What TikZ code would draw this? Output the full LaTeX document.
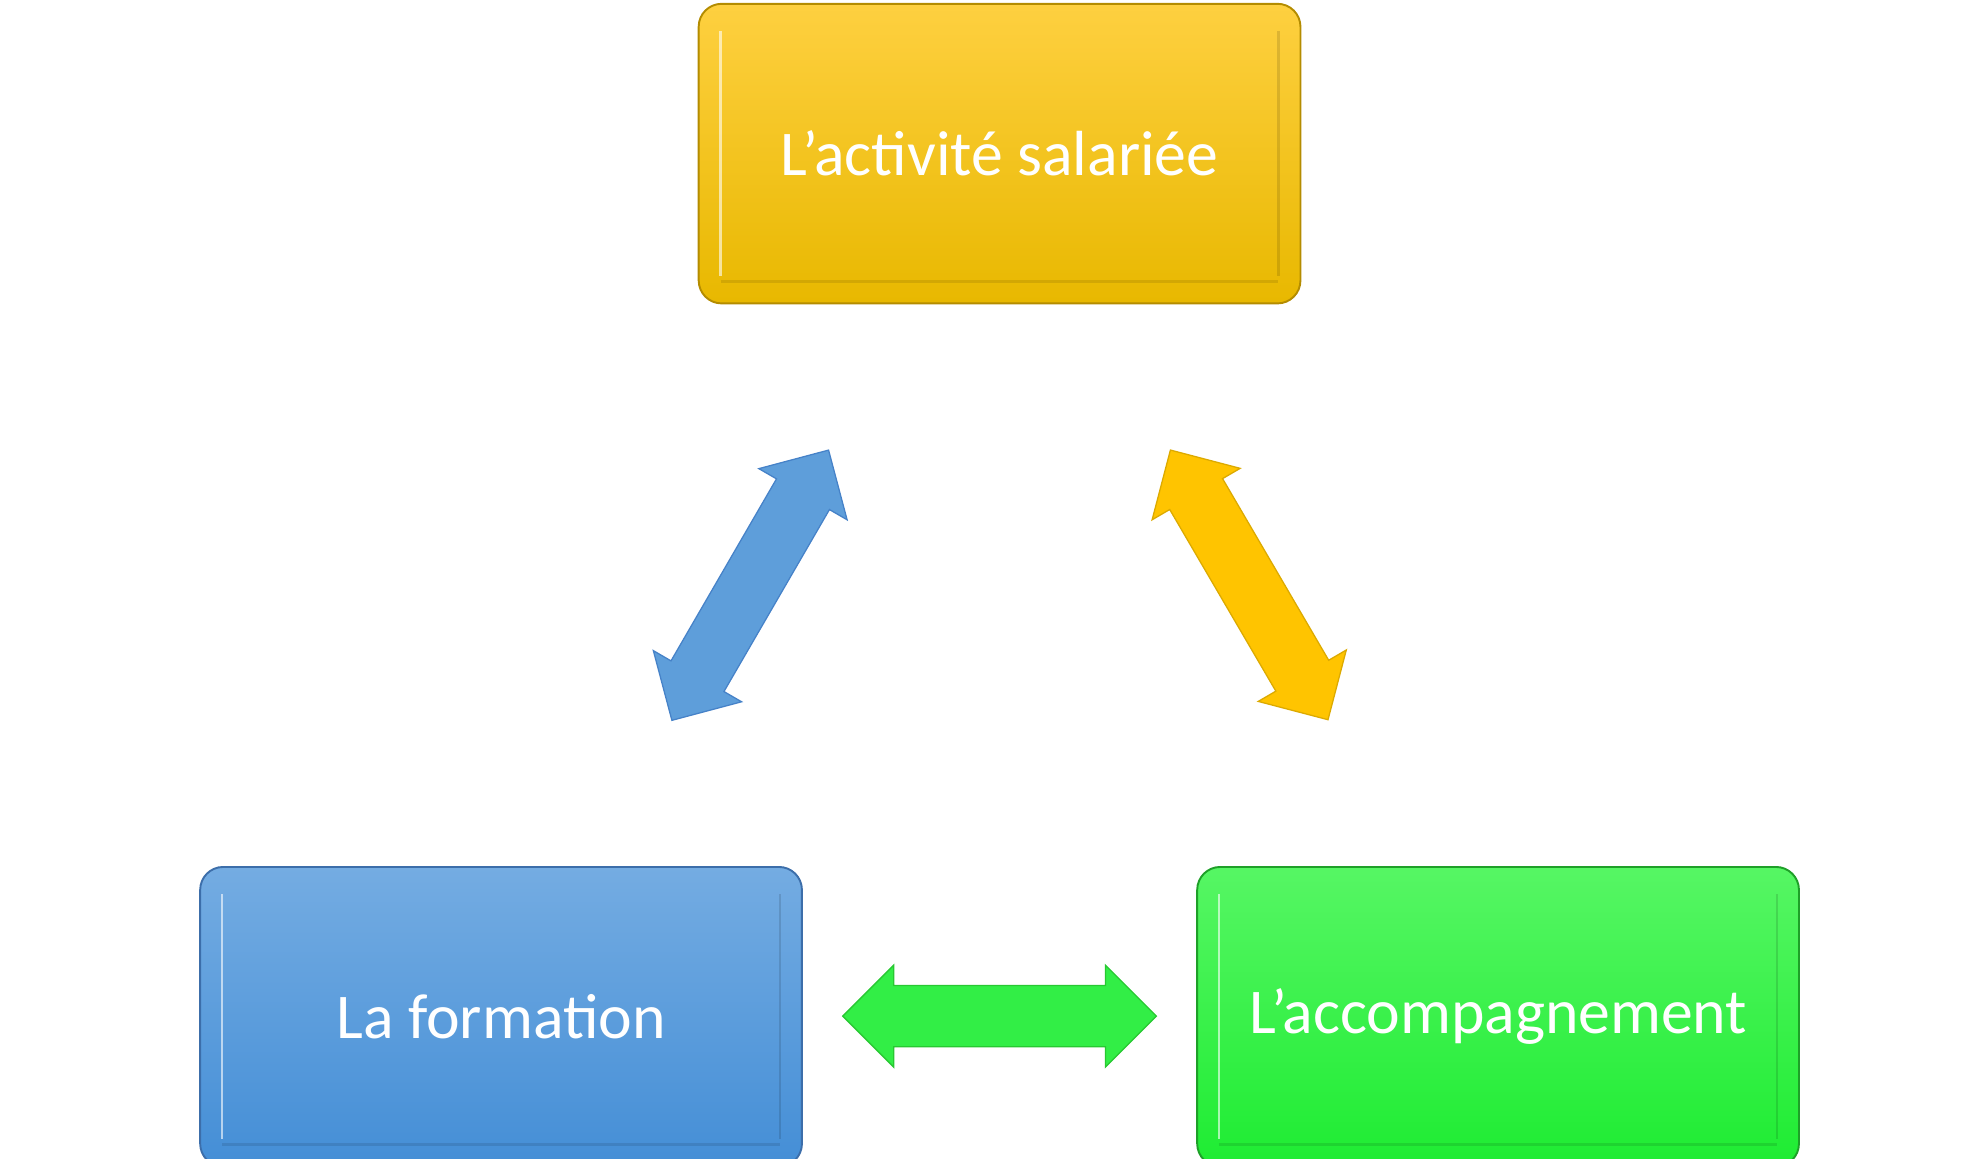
\documentclass[tikz,border=0pt]{standalone}
\usepackage{fontspec}
\setmainfont{Carlito}
\begin{document}
\begin{tikzpicture}[x=1pt,y=1pt,
  box/.style={rounded corners=18pt,line width=1.5pt,minimum width=472pt,minimum height=235pt,
    text=white,font=\fontsize{50}{60}\selectfont,inner sep=0pt},
  arr/.style={line width=1pt}]
\useasboundingbox (0,0) rectangle (1553,909);
\node[box,draw={rgb,255:red,180;green,140;blue,0},top color={rgb,255:red,254;green,208;blue,64},bottom color={rgb,255:red,232;green,184;blue,0}]
  (a) at (784,788.5) {L'activité salariée};
\node[box,draw={rgb,255:red,60;green,110;blue,170},top color={rgb,255:red,116;green,172;blue,226},bottom color={rgb,255:red,68;green,142;blue,214}]
  (f) at (393,111.5) {La formation};
\node[box,draw={rgb,255:red,30;green,160;blue,40},top color={rgb,255:red,86;green,246;blue,100},bottom color={rgb,255:red,30;green,236;blue,50}]
  (c) at (1175,111.5) {L'accompagnement};
\foreach \n in {a,f,c}{
  \draw[white,opacity=0.6,line width=2pt] ([shift={(18,-22)}]\n.north west) -- ([shift={(18,22)}]\n.south west);
  \draw[black,opacity=0.12,line width=2pt] ([shift={(-18,-22)}]\n.north east) -- ([shift={(-18,22)}]\n.south east);
  \draw[black,opacity=0.1,line width=2pt] ([shift={(18,18)}]\n.south west) -- ([shift={(-18,18)}]\n.south east);
}
\coordinate (b1) at (527,344);
\coordinate (y1) at (918,556);
\coordinate (g1) at (661,112);
% #1 start, #2 length, #3 angle, #4 fill, #5 draw
\def\darr#1#2#3#4#5{%
  \begin{scope}[shift={(#1)},rotate=#3]
  \draw[fill=#4,draw=#5,arr]
   (0,0) -- (40,40) -- (40,24) -- (#2-40,24) -- (#2-40,40) -- (#2,0) -- (#2-40,-40) -- (#2-40,-24) -- (40,-24) -- (40,-40) -- cycle;
  \end{scope}}
\darr{b1}{245}{59.9}{{rgb,255:red,94;green,158;blue,218}}{{rgb,255:red,70;green,130;blue,200}}
\darr{y1}{245}{-59.7}{{rgb,255:red,255;green,196;blue,0}}{{rgb,255:red,220;green,170;blue,0}}
\darr{g1}{246}{0}{{rgb,255:red,50;green,238;blue,70}}{{rgb,255:red,40;green,200;blue,50}}
\end{tikzpicture}
\end{document}
